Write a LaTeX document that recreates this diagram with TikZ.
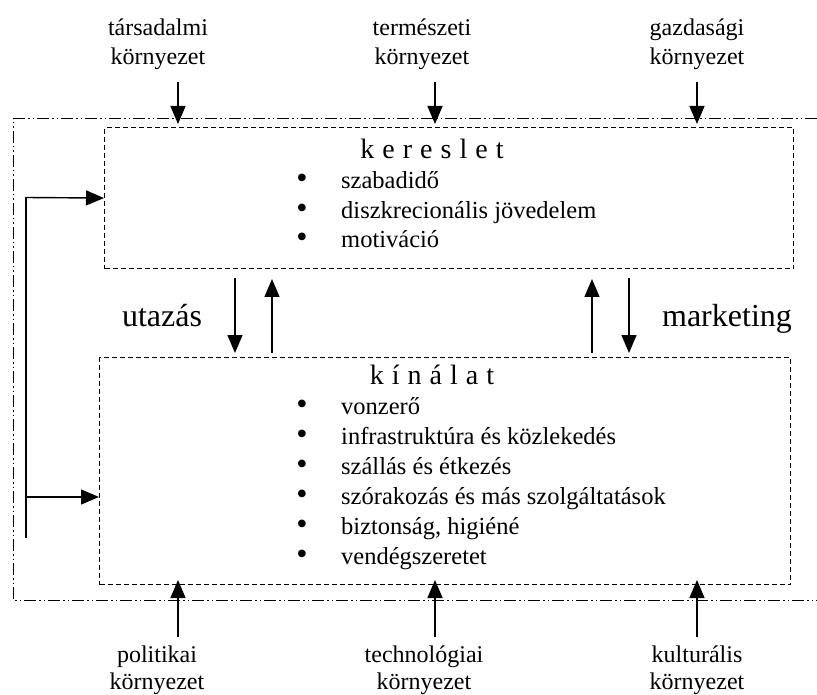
\documentclass[tikz,border=0pt]{standalone}
\usepackage{fontspec}
\setmainfont{Liberation Serif}
\usetikzlibrary{arrows.meta}
\newcommand\lsp{\kern 8pt}
\begin{document}
\begin{tikzpicture}[x=1pt,y=-1pt,
  arr/.style={line width=1.4pt,-{Triangle[length=18pt,width=15pt]}},
  plain/.style={line width=1.4pt},
  envlabel/.style={font=\fontsize{24}{29}\selectfont, inner sep=0pt, anchor=base},
  flowlabel/.style={font=\fontsize{32}{38}\selectfont, inner sep=0pt, anchor=base},
  title/.style={font=\fontsize{28}{34}\selectfont, inner sep=0pt, anchor=base},
  item/.style={font=\fontsize{24.5}{29}\selectfont, inner sep=0pt, anchor=base west},
  bullet/.style={font=\fontsize{32}{38}\selectfont, inner sep=0pt, anchor=base},
  box/.style={draw, dash pattern=on 5pt off 3pt, line width=1.1pt, inner sep=0pt, anchor=north west},
  frame/.style={line width=1pt, dash pattern=on 12pt off 3pt on 1.5pt off 3pt on 1.5pt off 3pt}
]
\useasboundingbox (0,0) rectangle (817,695);

% outer environment frame (its right side lies past the page edge)
\draw[frame] (817,119) -- (13,119) -- (13,600) -- (817,600);

% demand and supply boxes
\node[box, minimum width=689pt, minimum height=141pt] (dem) at (104,127) {};
\node[box, minimum width=691pt, minimum height=227pt] (sup) at (99,357) {};

% demand contents
\node[title] (demt) at (432,159) {k\lsp e\lsp r\lsp e\lsp s\lsp l\lsp e\lsp t};
\foreach \y/\t [count=\i] in {189/szabadidő, 218.5/diszkrecionális jövedelem, 248/motiváció}{
  \node[bullet] (db\i) at (302,\y) {•};
  \node[item] (di\i) at (341,\y) {\t};
}

% supply contents
\node[title] (supt) at (432,384) {k\lsp í\lsp n\lsp á\lsp l\lsp a\lsp t};
\foreach \y/\t [count=\i] in {414/vonzerő, 444/infrastruktúra és közlekedés, 474/szállás és étkezés, 504/szórakozás és más szolgáltatások, 534/{biztonság, higiéné}, 564/vendégszeretet}{
  \node[bullet] (sb\i) at (302,\y) {•};
  \node[item] (si\i) at (341,\y) {\t};
}

% environment labels, top
\node[envlabel] (t1a) at (158,36) {társadalmi};
\node[envlabel] (t1b) at (158,65) {környezet};
\node[envlabel] (t2a) at (422,36) {természeti};
\node[envlabel] (t2b) at (422,65) {környezet};
\node[envlabel] (t3a) at (697,36) {gazdasági};
\node[envlabel] (t3b) at (697,65) {környezet};

% environment labels, bottom
\node[envlabel] (b1a) at (157,662) {politikai};
\node[envlabel] (b1b) at (157,689) {környezet};
\node[envlabel] (b2a) at (424,662) {technológiai};
\node[envlabel] (b2b) at (424,689) {környezet};
\node[envlabel] (b3a) at (697,662) {kulturális};
\node[envlabel] (b3b) at (697,689) {környezet};

% environment arrows
\foreach \x [count=\i] in {178,435,697}{
  \coordinate (ts\i) at (\x,82);
  \coordinate (te\i) at (\x,124);
  \draw[arr] (ts\i) -- (te\i);
  \coordinate (bs\i) at (\x,637);
  \coordinate (be\i) at (\x,580);
  \draw[arr] (bs\i) -- (be\i);
}

% flows between demand and supply
\node[flowlabel] (trav) at (162,326) {utazás};
\node[flowlabel] (mkt) at (727,326) {marketing};
\coordinate (u1) at (235,278); \coordinate (u2) at (235,353);
\coordinate (u3) at (272,353); \coordinate (u4) at (272,279);
\coordinate (m1) at (592,353); \coordinate (m2) at (592,279);
\coordinate (m3) at (629,278); \coordinate (m4) at (629,353);
\draw[arr] (u1) -- (u2);
\draw[arr] (u3) -- (u4);
\draw[arr] (m1) -- (m2);
\draw[arr] (m3) -- (m4);

% feedback loop on the left
\coordinate (fbtop) at (26,197.5);
\coordinate (fblow) at (26,497);
\coordinate (fbend) at (26,538);
\draw[plain] (fbend) -- (fbtop);
\draw[arr] (fbtop) -- (dem.west);
\draw[arr] (fblow) -- (sup.west |- fblow);
\end{tikzpicture}
\end{document}
